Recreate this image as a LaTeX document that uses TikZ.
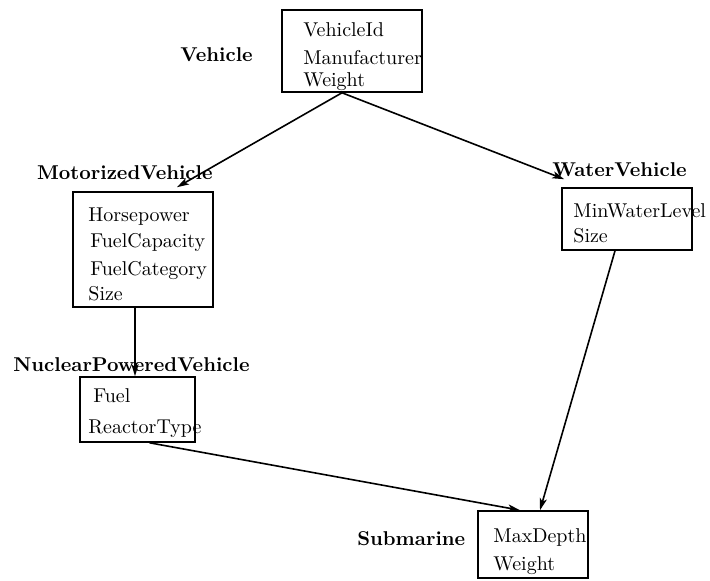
\documentclass[tikz,border=0pt]{standalone}
\usetikzlibrary{arrows.meta}
\begin{document}
\begin{tikzpicture}[x=0.5pt,y=-0.5pt,
  classbox/.style={draw,line width=0.8pt,inner sep=0pt},
  attr/.style={anchor=base west,inner sep=0pt,font=\normalsize},
  classname/.style={inner sep=0pt,font=\normalsize\bfseries},
  isa/.style={line width=0.8pt,-{Stealth[length=6pt,width=3.6pt,inset=1.5pt]}}]
\useasboundingbox (0,0) rectangle (710,581);

% class boxes
\node[classbox,minimum width=70pt,minimum height=41pt] (veh) at (352,51) {};
\node[classbox,minimum width=70pt,minimum height=57.5pt] (mot) at (143,249.5) {};
\node[classbox,minimum width=65pt,minimum height=31pt] (wat) at (627,219) {};
\node[classbox,minimum width=57.5pt,minimum height=32.5pt] (nuc) at (137.5,409.5) {};
\node[classbox,minimum width=55pt,minimum height=33.5pt] (sub) at (533,544.5) {};

% class names
\node[classname,anchor=base west] (vehname) at (180,62) {Vehicle};
\node[classname,anchor=base east] (motname) at (213,180) {MotorizedVehicle};
\node[classname,anchor=base west] (watname) at (552,177) {WaterVehicle};
\node[classname,anchor=base west] (nucname) at (13,372) {NuclearPoweredVehicle};
\node[classname,anchor=base west] (subname) at (357,545) {Submarine};

% attributes
\node[attr] (v1) at (303,37) {VehicleId};
\node[attr] (v2) at (303,65) {Manufacturer};
\node[attr] (v3) at (303,87) {Weight};

\node[attr] (m1) at (88,222) {Horsepower};
\node[attr] (m2) at (90,248) {FuelCapacity};
\node[attr] (m3) at (90,276) {FuelCategory};
\node[attr] (m4) at (88,301) {Size};

\node[attr] (w1) at (573,218) {MinWaterLevel};
\node[attr] (w2) at (573,243) {Size};

\node[attr] (n1) at (93,402) {Fuel};
\node[attr] (n2) at (88,433) {ReactorType};

\node[attr] (s1) at (493,542) {MaxDepth};
\node[attr] (s2) at (493,570) {Weight};

% specialisation links
\draw[isa] ([xshift=-5pt]veh.south) -- ([shift={(17pt,2pt)}]mot.north);
\draw[isa] ([xshift=-5pt]veh.south) -- ([shift={(1.5pt,4pt)}]wat.north west);
\draw[isa] ([xshift=-4pt]mot.south) -- ([xshift=-1.25pt]nuc.north);
\draw[isa] ([xshift=6pt]nuc.south) -- ([xshift=-6.5pt]sub.north);
\draw[isa] ([xshift=-6pt]wat.south) -- ([xshift=3.5pt]sub.north);
\end{tikzpicture}
\end{document}
